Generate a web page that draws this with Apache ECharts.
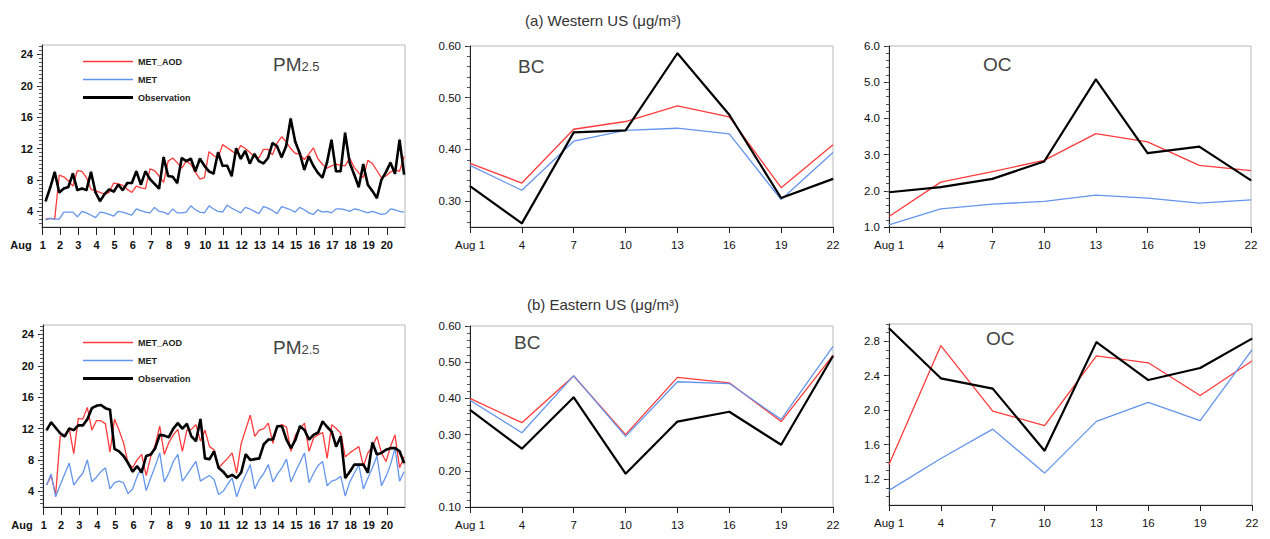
<!DOCTYPE html>
<html>
<head>
<meta charset="utf-8">
<script src="https://cdn.jsdelivr.net/npm/echarts@6/dist/echarts.min.js"></script>
<style>
html, body { margin: 0; padding: 0; background: #fff; }
#main { width: 1270px; height: 539px; }
</style>
</head>
<body>
<div id="main"></div>
<script>
// PM2.5, 6-hourly from Aug 1.2 (day of month)
var pmStart = 1.2, pmStep = 0.25;
var pmWestAod = [3.0,3.1,3.0,8.6,8.4,7.9,7.2,9.2,9.1,8.3,
    6.8,6.6,6.4,6.2,6.4,7.6,7.5,7.3,6.8,6.4,
    7.2,7.0,6.9,9.4,9.2,8.5,7.7,10.4,10.8,10.2,
    9.5,10.4,10.0,9.0,8.1,8.3,11.6,11.1,10.8,12.5,
    12.1,11.7,11.3,12.4,12.0,11.5,11.0,10.8,11.9,11.9,
    11.2,12.7,13.5,12.9,12.0,11.4,11.3,10.6,11.3,12.1,
    10.7,10.0,9.5,9.8,10.0,9.9,9.8,10.8,9.6,8.9,
    8.3,10.5,10.1,9.2,8.3,8.5,9.0,9.3,9.1,11.0];
var pmWestMet = [2.9,3.1,3.0,3.0,3.9,3.9,3.9,3.3,4.0,3.8,
    3.5,3.2,3.9,3.8,3.6,3.4,4.0,3.9,3.7,3.5,
    4.3,4.1,3.9,3.8,4.5,4.0,3.9,3.6,4.3,3.8,
    3.8,3.9,4.7,4.2,3.9,3.8,4.7,4.3,4.0,3.9,
    4.8,4.4,4.1,3.8,4.5,4.3,4.0,3.7,4.6,4.4,
    4.1,3.7,4.6,4.4,4.2,3.9,4.5,4.2,3.8,3.6,
    4.2,3.9,4.0,3.8,4.3,4.3,4.2,4.0,4.3,4.2,
    4.0,3.8,4.0,3.8,3.6,3.7,4.3,4.2,4.0,3.9];
var pmWestObs = [5.3,7.0,9.0,6.4,6.9,7.1,8.8,6.7,6.9,6.7,
    9.0,6.4,5.3,6.2,6.8,6.5,7.4,6.7,7.6,7.6,
    9.1,7.4,9.1,8.1,7.5,6.9,10.9,8.5,8.4,7.6,
    10.8,10.4,10.7,9.1,10.7,9.8,9.1,8.8,11.5,9.8,
    9.8,8.5,12.0,10.7,11.7,10.1,11.3,10.4,10.1,10.8,
    12.7,12.3,10.9,12.3,15.8,12.9,11.4,9.3,11.0,9.8,
    8.9,8.3,10.2,13.1,9.1,9.1,14.0,10.2,8.7,7.1,
    10.0,7.4,6.6,5.7,8.0,9.0,10.2,8.8,13.1,8.7];
var pmEastAod = [4.8,6.0,3.6,11.0,11.2,12.0,8.8,13.3,13.2,14.7,
    11.8,13.0,13.0,12.6,9.0,13.2,11.8,10.2,7.6,7.0,
    8.0,8.7,6.0,8.4,9.9,12.3,8.7,10.2,11.2,11.9,
    9.1,11.8,11.9,12.5,10.4,11.8,9.7,9.3,7.0,7.6,
    8.2,8.9,6.3,10.1,11.9,13.7,11.0,11.8,12.0,12.7,
    10.1,12.3,12.5,12.2,9.1,11.2,12.0,12.7,9.1,10.8,
    11.2,11.5,8.2,12.5,12.0,11.4,8.4,8.9,9.3,9.7,
    7.2,8.9,9.7,11.0,8.9,7.8,9.7,11.2,7.0,8.4];
var pmEastMet = [4.8,6.2,3.3,4.8,6.2,7.6,4.8,5.6,6.3,8.0,
    5.2,5.8,6.5,7.0,4.3,5.1,5.3,5.1,3.7,4.3,
    5.9,7.0,4.1,5.7,7.2,8.9,5.2,6.3,7.8,8.7,
    5.3,6.1,7.0,7.8,5.3,5.7,6.0,5.5,3.6,4.0,
    4.9,5.7,3.3,4.9,6.1,7.4,4.3,5.5,6.3,7.4,
    5.2,6.2,7.0,8.1,5.2,6.5,7.7,8.9,5.1,6.3,
    7.3,7.8,4.7,5.3,5.5,5.9,3.4,5.2,6.3,7.4,
    4.3,5.7,7.0,8.5,4.7,5.9,7.4,9.5,5.3,6.5];
var pmEastObs = [11.8,12.8,12.1,11.4,11.0,12.0,11.8,12.4,12.4,13.2,
    14.6,14.9,15.0,14.6,14.4,9.4,9.1,8.5,7.6,6.5,
    7.2,6.4,8.5,8.7,9.5,11.2,11.1,10.9,12.0,12.7,
    12.0,12.6,11.0,10.4,13.2,8.2,8.1,9.1,7.0,6.5,
    5.8,6.1,5.7,6.4,8.7,8.0,8.1,8.2,10.0,10.6,
    10.6,12.3,12.3,10.6,9.5,10.6,12.3,11.8,10.6,11.2,
    11.5,12.9,12.2,11.6,9.7,11.0,5.7,6.5,7.4,7.4,
    7.4,6.4,10.2,8.7,8.9,9.3,9.5,9.5,9.1,7.6];

// BC / OC, every 3 days
var days = [1, 4, 7, 10, 13, 16, 19, 22];
var bcWestAod = [0.373,0.335,0.439,0.454,0.484,0.463,0.326,0.409];
var bcWestMet = [0.369,0.321,0.416,0.437,0.441,0.430,0.303,0.394];
var bcWestObs = [0.329,0.257,0.433,0.437,0.586,0.467,0.306,0.343];
var ocWestAod = [1.29,2.24,2.53,2.84,3.58,3.35,2.70,2.56];
var ocWestMet = [1.06,1.50,1.63,1.71,1.88,1.80,1.66,1.75];
var ocWestObs = [1.96,2.10,2.33,2.81,5.08,3.04,3.22,2.29];
var bcEastAod = [0.400,0.333,0.462,0.300,0.458,0.443,0.336,0.519];
var bcEastMet = [0.395,0.305,0.463,0.295,0.446,0.441,0.342,0.544];
var bcEastObs = [0.368,0.261,0.403,0.192,0.336,0.363,0.272,0.517];
var ocEastAod = [1.37,2.75,1.99,1.82,2.63,2.55,2.17,2.57];
var ocEastMet = [1.07,1.44,1.78,1.27,1.87,2.09,1.88,2.70];
var ocEastObs = [2.95,2.37,2.25,1.53,2.79,2.35,2.49,2.83];

var RED = '#ff3b3b', BLUE = '#6495ed', BLACK = '#000';
var FONT = 'Liberation Sans';

function steps(a, b, s) {
    var r = [];
    for (var v = a; v <= b + 1e-9; v += s) r.push(+v.toFixed(4));
    return r;
}
function pmPairs(vals) {
    return vals.map(function (v, i) { return [pmStart + pmStep * i, v]; });
}
function dayPairs(vals) {
    return vals.map(function (v, i) { return [days[i], v]; });
}

// panel layout + y ranges
var panels = [
    {box: [42, 45, 363, 182], ymin: 2, ymax: 25.2, major: steps(4, 24, 4), minor: steps(2.5, 25, 0.5), dec: 0, pm: true,
        aod: pmWestAod, met: pmWestMet, obs: pmWestObs},
    {box: [470, 46, 363, 181], ymin: 0.25, ymax: 0.6, major: steps(0.3, 0.6, 0.1), minor: steps(0.26, 0.6, 0.02), dec: 2,
        aod: bcWestAod, met: bcWestMet, obs: bcWestObs},
    {box: [889, 46, 362, 181], ymin: 1, ymax: 6, major: steps(1, 6, 1), minor: steps(1.2, 6, 0.2), dec: 1,
        aod: ocWestAod, met: ocWestMet, obs: ocWestObs},
    {box: [43, 325, 362, 182], ymin: 2, ymax: 25.2, major: steps(4, 24, 4), minor: steps(2.5, 25, 0.5), dec: 0, pm: true,
        aod: pmEastAod, met: pmEastMet, obs: pmEastObs},
    {box: [470, 326, 363, 181], ymin: 0.1, ymax: 0.6, major: steps(0.1, 0.6, 0.1), minor: steps(0.12, 0.6, 0.02), dec: 2,
        aod: bcEastAod, met: bcEastMet, obs: bcEastObs},
    {box: [889, 324, 363, 181], ymin: 0.9, ymax: 3.0, major: steps(1.2, 2.8, 0.4), minor: steps(1.0, 3.0, 0.1), dec: 1,
        aod: ocEastAod, met: ocEastMet, obs: ocEastObs}
];

var grids = [], xAxes = [], yAxes = [], series = [];
panels.forEach(function (p, g) {
    grids.push({left: p.box[0], top: p.box[1], width: p.box[2], height: p.box[3],
        show: true, borderColor: '#b8b8b8', borderWidth: 1});
    var xTicks = p.pm ? steps(1, 20, 1) : days;
    xAxes.push({
        type: 'value', gridIndex: g, min: 1, max: p.pm ? 21 : 22,
        axisLine: {show: true, onZero: false, lineStyle: {color: '#222', width: 1}},
        axisTick: {show: true, customValues: xTicks, length: p.pm ? 8 : 6, lineStyle: {color: '#222'}},
        axisLabel: {
            customValues: xTicks, margin: 12, color: '#111', fontFamily: FONT,
            fontSize: p.pm ? 11 : 11.5, fontWeight: p.pm ? 'bold' : 'normal',
            formatter: function (v) {
                if (v === 1) return p.pm ? '{m|Aug}{d|1}' : 'Aug 1';
                return String(v);
            },
            rich: {
                m: {fontSize: 11, fontWeight: 'bold', fontFamily: FONT, color: '#111', padding: [0, 8, 0, 0]},
                d: {fontSize: 11, fontWeight: 'bold', fontFamily: FONT, color: '#111', padding: [0, 28, 0, 0]}
            }
        },
        splitLine: {show: false}
    });
    yAxes.push({
        type: 'value', gridIndex: g, position: 'left', min: p.ymin, max: p.ymax,
        axisLine: {show: true, onZero: false, lineStyle: {color: '#222', width: 1}},
        axisTick: {show: true, customValues: p.major, length: 5, lineStyle: {color: '#222'}},
        axisLabel: {
            customValues: p.major, margin: 9, color: '#111', fontFamily: FONT,
            fontSize: p.pm ? 11 : 11.5, fontWeight: p.pm ? 'bold' : 'normal',
            formatter: function (v) { return v.toFixed(p.dec); }
        },
        splitLine: {show: false}
    });
    // minor ticks
    yAxes.push({
        type: 'value', gridIndex: g, position: 'left', min: p.ymin, max: p.ymax,
        axisLine: {show: false, onZero: false},
        axisTick: {show: true, customValues: p.minor, length: 3, lineStyle: {color: '#555'}},
        axisLabel: {show: false},
        splitLine: {show: false}
    });
    var toPairs = p.pm ? pmPairs : dayPairs;
    var thin = 1.3, thick = p.pm ? 2.6 : 2.2;
    series.push({name: 'MET_AOD', type: 'line', xAxisIndex: g, yAxisIndex: 2 * g, data: toPairs(p.aod),
        showSymbol: false, symbol: 'none', lineStyle: {color: RED, width: thin}, itemStyle: {color: RED}, animation: false});
    series.push({name: 'MET', type: 'line', xAxisIndex: g, yAxisIndex: 2 * g, data: toPairs(p.met),
        showSymbol: false, symbol: 'none', lineStyle: {color: BLUE, width: thin}, itemStyle: {color: BLUE}, animation: false});
    series.push({name: 'Observation', type: 'line', xAxisIndex: g, yAxisIndex: 2 * g, data: toPairs(p.obs),
        showSymbol: false, symbol: 'none', lineStyle: {color: BLACK, width: thick}, itemStyle: {color: BLACK}, animation: false});
    // little star marks on the observation points
    series.push({type: 'scatter', xAxisIndex: g, yAxisIndex: 2 * g, data: toPairs(p.obs), silent: true,
        symbol: 'path://M0,-1L0.25,-0.25L1,0L0.25,0.25L0,1L-0.25,0.25L-1,0L-0.25,-0.25Z',
        symbolSize: p.pm ? 5 : 4, itemStyle: {color: '#9a9a9a'}, animation: false});
});

// legend entries drawn as plain line strokes
function legendAt(top) {
    return {
        orient: 'vertical', left: 78, top: top, itemWidth: 50, itemHeight: 10, itemGap: 9,
        selectedMode: false, symbolKeepAspect: true,
        data: [
            {name: 'MET_AOD', icon: 'path://M0,0H50V1.4H0Z'},
            {name: 'MET', icon: 'path://M0,0H50V1.4H0Z'},
            {name: 'Observation', icon: 'path://M0,0H50V2.8H0Z'}
        ],
        textStyle: {fontSize: 9, fontWeight: 'bold', color: '#222', fontFamily: FONT}
    };
}

function label(x, y, text) {
    return {type: 'text', x: x, y: y, style: {text: text, fontSize: 19, fill: '#444', fontFamily: FONT, verticalAlign: 'middle'}};
}
function pmLabel(x, y) {
    return {type: 'text', x: x, y: y, style: {
        text: '{a|PM}{b|2.5}', verticalAlign: 'middle', fill: '#444',
        rich: {
            a: {fontSize: 19, fontFamily: FONT, fill: '#444', verticalAlign: 'bottom'},
            b: {fontSize: 13, fontFamily: FONT, fill: '#444', verticalAlign: 'bottom', padding: [0, 0, 1, 0]}
        }
    }};
}
function heading(y, text) {
    return {type: 'text', x: 603, y: y, style: {text: text, fontSize: 15, fill: '#333', fontFamily: FONT,
        align: 'center', verticalAlign: 'middle'}};
}

var myChart = echarts.init(document.getElementById('main'), null, {renderer: 'svg'});
var option = {
    backgroundColor: '#fff',
    animation: false,
    grid: grids,
    xAxis: xAxes,
    yAxis: yAxes,
    legend: [legendAt(52), legendAt(333)],
    graphic: [
        heading(20, '(a) Western US (\u03bcg/m\u00b3)'),
        heading(304, '(b) Eastern US (\u03bcg/m\u00b3)'),
        pmLabel(273, 64),
        label(518, 66, 'BC'),
        label(983, 64, 'OC'),
        pmLabel(273, 347),
        label(514, 342, 'BC'),
        label(986, 338, 'OC')
    ],
    series: series
};
myChart.setOption(option);
</script>
</body>
</html>
